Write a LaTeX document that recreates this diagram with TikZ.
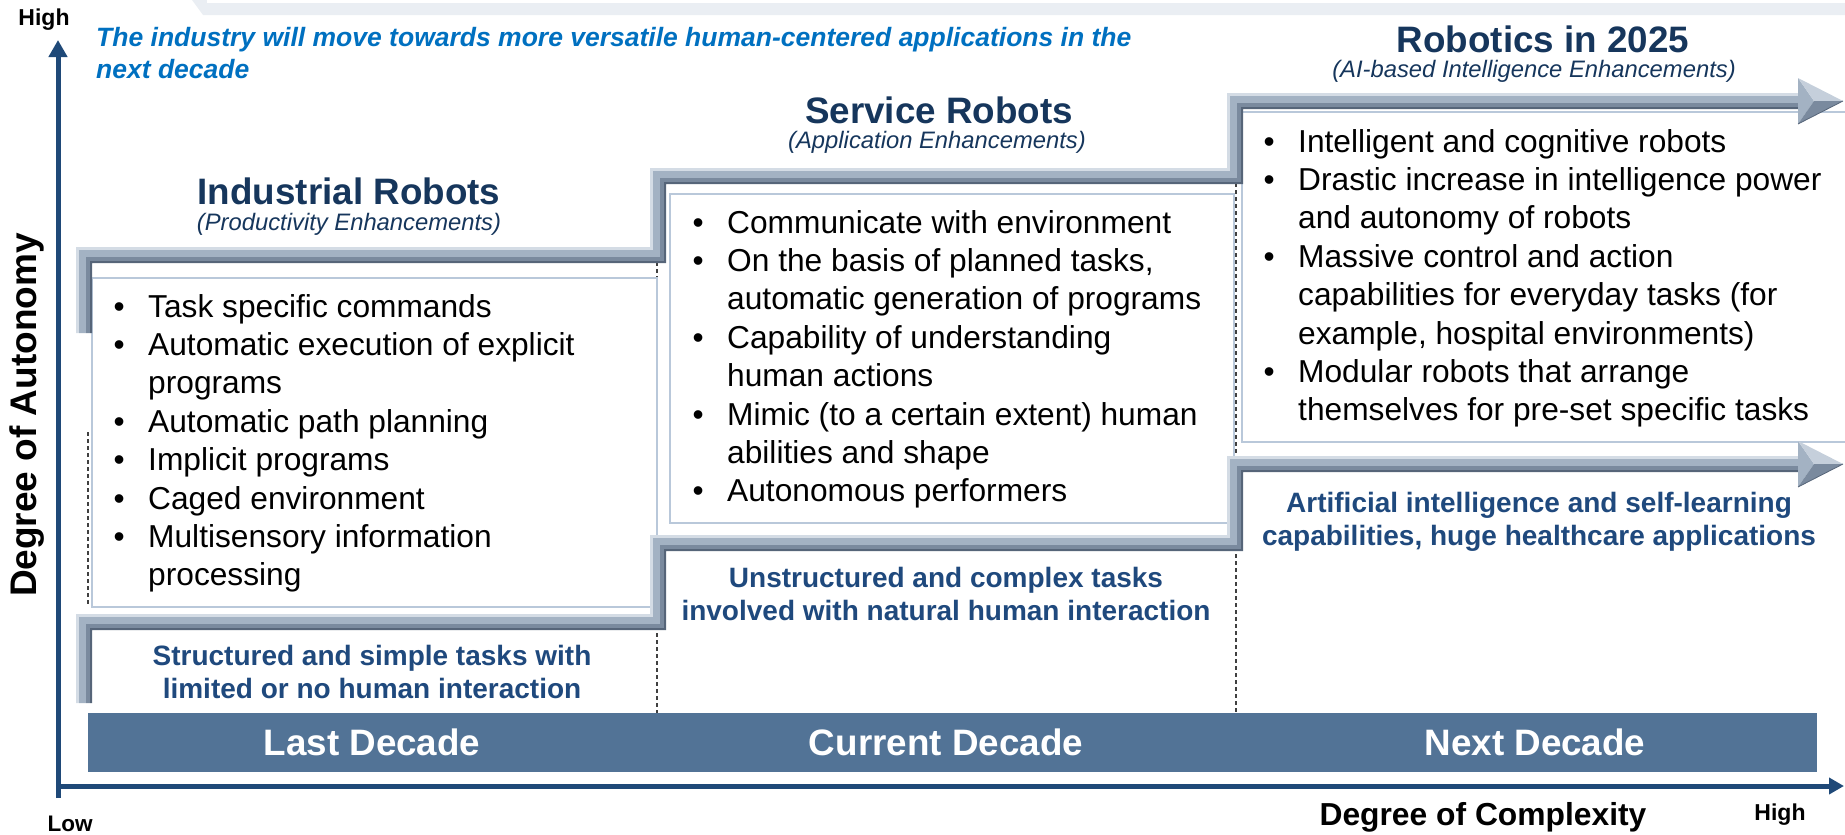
\documentclass[tikz,border=0pt]{standalone}
\usepackage{fontspec}
\setmainfont{Liberation Sans}
\usetikzlibrary{arrows.meta,calc}
\definecolor{navy}{RGB}{22,54,92}
\definecolor{subnavy}{RGB}{31,73,125}
\definecolor{axisblue}{RGB}{31,73,120}
\definecolor{bannerblue}{RGB}{0,112,192}
\definecolor{barblue}{RGB}{82,115,150}
\definecolor{boxline}{RGB}{185,200,218}
\definecolor{stairHi}{RGB}{212,220,229}
\definecolor{stairMid}{RGB}{163,178,195}
\definecolor{stairLo}{RGB}{122,138,158}
\definecolor{stairSh}{RGB}{86,101,121}
\definecolor{topgray}{RGB}{234,238,243}
\newcommand\stairband[4]{%
 \fill[#4] ($(#10)+(#2,0)$) -- ($(#11)+(#2,#2)$) -- ($(#12)+(#2,#2)$) -- ($(#13)+(#2,#2)$) -- ($(#14)+(#2,#2)$) -- ($(#15)+(#2,#2)$) -- ($(#16)+(0,#2)$) -- ($(#16)+(0,#3)$) -- ($(#15)+(#3,#3)$) -- ($(#14)+(#3,#3)$) -- ($(#13)+(#3,#3)$) -- ($(#12)+(#3,#3)$) -- ($(#11)+(#3,#3)$) -- ($(#10)+(#3,0)$) -- cycle;}
\newcommand\bul{\makebox[34.5pt][l]{•}}
\tikzset{
  textbox/.style={draw=boxline, line width=2pt},
  divider/.style={draw=black!75, line width=1.2pt, dash pattern=on 4pt off 3pt},
  axisline/.style={draw=axisblue, line width=5pt},
  bullettxt/.style={anchor=base west, inner sep=0pt, font=\fontsize{31.7pt}{38.4pt}\selectfont},
  title/.style={anchor=base, inner sep=0pt, text=navy, font=\fontsize{36.8pt}{40pt}\selectfont\bfseries},
  subtitle/.style={anchor=base, inner sep=0pt, text=navy, font=\fontsize{23.8pt}{26pt}\selectfont\itshape},
  lowtxt/.style={anchor=base, inner sep=0pt, text=subnavy, font=\fontsize{28pt}{33pt}\selectfont\bfseries},
  decade/.style={anchor=base, inner sep=0pt, text=white, font=\fontsize{36.8pt}{40pt}\selectfont\bfseries},
  axlabel/.style={anchor=base, inner sep=0pt, text=black, font=\fontsize{23pt}{26pt}\selectfont\bfseries},
}
\begin{document}
\begin{tikzpicture}[x=1pt,y=-1pt]
\useasboundingbox (0,0) rectangle (1845,835);
% top banner strip
\fill[topgray] (192,0) -- (1845,0) -- (1845,15) -- (203,15) -- cycle;
\fill[white] (207,0) rectangle (1845,3);
% column dividers
\draw[divider] (88,432) -- (88,606);
\draw[divider] (657,262) -- (657,713);
\draw[divider] (1236,183) -- (1236,720);
% text boxes
\draw[textbox] (92,278) rectangle (657,607);
\draw[textbox] (670,194) rectangle (1234,523);
\draw[textbox] (1242,112) rectangle (1850,442);
% decade bar
\fill[barblue] (88,713) rectangle (1817,772);
\node[decade] (dLast) at (372,755) {Last Decade};
\node[decade] (dCur) at (946,755) {Current Decade};
\node[decade] (dNext) at (1535,755) {Next Decade};
% staircases
\coordinate (S0) at (84,333);
\coordinate (S1) at (84,255);
\coordinate (S2) at (658,255);
\coordinate (S3) at (658,176);
\coordinate (S4) at (1235,176);
\coordinate (S5) at (1235,101);
\coordinate (S6) at (1800,101);
\coordinate (L0) at (84,703);
\coordinate (L1) at (84,622);
\coordinate (L2) at (658,622);
\coordinate (L3) at (658,543);
\coordinate (L4) at (1235,543);
\coordinate (L5) at (1235,464);
\coordinate (L6) at (1800,464);
\foreach \p in {S,L}{
  \stairband{\p}{-8}{-5}{stairHi}
  \stairband{\p}{-5}{2}{stairMid}
  \stairband{\p}{2}{6}{stairLo}
  \stairband{\p}{6}{8}{stairSh}
}
% arrow heads
\foreach \yy in {101,464}{
  \fill[stairMid] (1798,\yy-23) -- (1814,\yy) -- (1798,\yy+23) -- cycle;
  \fill[stairHi!70!stairMid] (1798,\yy-23) -- (1843,\yy) -- (1814,\yy) -- cycle;
  \fill[stairLo] (1798,\yy+23) -- (1843,\yy) -- (1814,\yy) -- cycle;
  \draw[stairSh, line width=0.8pt] (1798,\yy+23) -- (1843,\yy);
}
% axes
\draw[axisline, -{Triangle[width=18pt,length=17pt]}] (58,798) -- (58,40);
\draw[axisline, -{Triangle[width=16pt,length=15pt]}] (56,786) -- (1844,786);
\node[axlabel] (hiY) at (44,25) {High};
\node[axlabel, font=\fontsize{22.5pt}{26pt}\selectfont\bfseries] (lowX) at (70,831) {Low};
\node[axlabel] (hiX) at (1780,820) {High};
\node[axlabel, font=\fontsize{31.8pt}{36pt}\selectfont\bfseries] (cplx) at (1483,825) {Degree of Complexity};
\node[axlabel, rotate=90, font=\fontsize{37pt}{40pt}\selectfont\bfseries] (auton) at (36.5,415) {Degree of Autonomy};
% banner text
\node[anchor=base west, inner sep=0pt, text=bannerblue, font=\fontsize{26.5pt}{32pt}\selectfont\bfseries\itshape] (bn) at (96,46)
  {\begin{tabular}[t]{@{}l@{}}The industry will move towards more versatile human-centered applications in the\\ next decade\end{tabular}};
% titles
\node[title] (tIR) at (349,204) {Industrial Robots};
\node[subtitle] (sIR) at (349,230) {(Productivity Enhancements)};
\node[title] (tSR) at (939,123) {Service Robots};
\node[subtitle] (sSR) at (937,148) {(Application Enhancements)};
\node[title] (tRB) at (1543,52) {Robotics in 2025};
\node[subtitle] (sRB) at (1534,77) {(AI-based Intelligence Enhancements)};
% bullet lists
\node[bullettxt] (b1) at (113.5,317) {\begin{tabular}[t]{@{}l@{}l@{}}
\bul & Task specific commands\\
\bul & Automatic execution of explicit\\
 & programs\\
\bul & Automatic path planning\\
\bul & Implicit programs\\
\bul & Caged environment\\
\bul & Multisensory information\\
 & processing
\end{tabular}};
\node[bullettxt] (b2) at (692.5,233) {\begin{tabular}[t]{@{}l@{}l@{}}
\bul & Communicate with environment\\
\bul & On the basis of planned tasks,\\
 & automatic generation of programs\\
\bul & Capability of understanding\\
 & human actions\\
\bul & Mimic (to a certain extent) human\\
 & abilities and shape\\
\bul & Autonomous performers
\end{tabular}};
\node[bullettxt] (b3) at (1263.5,152) {\begin{tabular}[t]{@{}l@{}l@{}}
\bul & Intelligent and cognitive robots\\
\bul & Drastic increase in intelligence power\\
 & and autonomy of robots\\
\bul & Massive control and action\\
 & capabilities for everyday tasks (for\\
 & example, hospital environments)\\
\bul & Modular robots that arrange\\
 & themselves for pre-set specific tasks
\end{tabular}};
% lower descriptions
\node[lowtxt] (l1) at (372,665) {\begin{tabular}[t]{@{}c@{}}Structured and simple tasks with\\ limited or no human interaction\end{tabular}};
\node[lowtxt] (l2) at (946,587) {\begin{tabular}[t]{@{}c@{}}Unstructured and complex tasks\\ involved with natural human interaction\end{tabular}};
\node[lowtxt] (l3) at (1539,512) {\begin{tabular}[t]{@{}c@{}}Artificial intelligence and self-learning\\ capabilities, huge healthcare applications\end{tabular}};
\end{tikzpicture}
\end{document}
